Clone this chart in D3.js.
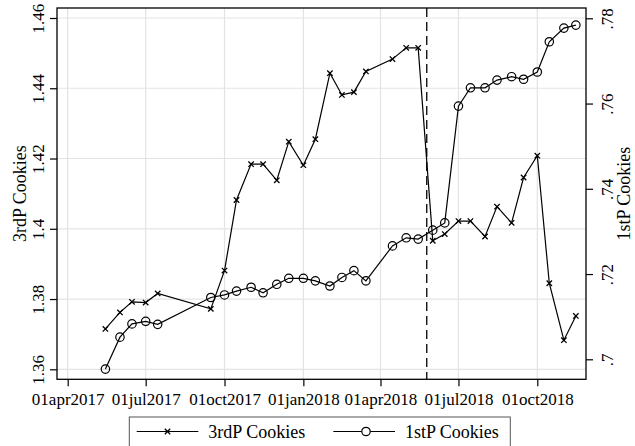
<!DOCTYPE html>
<html><head><meta charset="utf-8">
<script src="https://cdn.jsdelivr.net/npm/d3@7"></script>
<style>
html,body{margin:0;padding:0;background:#fff;}
svg{display:block;font-family:"Liberation Serif","Times New Roman",serif;}
</style></head>
<body><svg id="c" width="635" height="446"></svg>
<script>
const dates = ["2017-05-15","2017-06-01","2017-06-15","2017-07-01","2017-07-15","2017-09-15","2017-10-01","2017-10-15","2017-11-01","2017-11-15","2017-12-01","2017-12-15","2018-01-01","2018-01-15","2018-02-01","2018-02-15","2018-03-01","2018-03-15","2018-04-15","2018-05-01","2018-05-15","2018-06-01","2018-06-15","2018-07-01","2018-07-15","2018-08-01","2018-08-15","2018-09-01","2018-09-15","2018-10-01","2018-10-15","2018-11-01","2018-11-15"];
const thirdP = [1.3715,1.3762,1.3792,1.3790,1.3816,1.3772,1.3881,1.4082,1.4184,1.4184,1.4138,1.4248,1.4181,1.4255,1.4443,1.4381,1.4389,1.4448,1.4483,1.4515,1.4515,1.3966,1.3985,1.4022,1.4022,1.3978,1.4063,1.4017,1.4146,1.4208,1.3845,1.3683,1.3752];
const firstP = [0.6977,0.7052,0.7083,0.7089,0.7082,0.7145,0.7151,0.7160,0.7169,0.7156,0.7176,0.7190,0.7190,0.7184,0.7172,0.7192,0.7208,0.7184,0.7266,0.7285,0.7282,0.7303,0.7320,0.7594,0.7637,0.7637,0.7655,0.7663,0.7657,0.7674,0.7745,0.7777,0.7784];
const xTicks = ["2017-04-01","2017-07-01","2017-10-01","2018-01-01","2018-04-01","2018-07-01","2018-10-01"];
const leftTicks = [1.36,1.38,1.40,1.42,1.44,1.46];
const leftTickLabels = ["1.36","1.38","1.4","1.42","1.44","1.46"];
const rightTicks = [0.70,0.72,0.74,0.76,0.78];
const rightTickLabels = [".7",".72",".74",".76",".78"];
const eventDate = "2018-05-25";
const seriesNames = ["3rdP Cookies","1stP Cookies"];

const parse = d3.utcParse("%Y-%m-%d");
const fmt = d => d3.utcFormat("%d%b%Y")(d).toLowerCase();

const L = 57, R = 586, T = 8, B = 379.3;
const svg = d3.select("#c");

const x = d3.scaleUtc().domain([parse("2017-04-01"), parse("2018-10-01")]).range([67.7, 537.3]);
const yL = d3.scaleLinear().domain([1.36, 1.46]).range([369.3, 18]);
const yR = d3.scaleLinear().domain([0.70, 0.78]).range([359.3, 18.3]);

const data = dates.map((d,i) => ({date: parse(d), a: thirdP[i], b: firstP[i]}));

// gridlines
const g = svg.append("g");
g.selectAll("line.h").data(leftTicks).join("line")
  .attr("x1", L).attr("x2", R).attr("y1", d => yL(d)).attr("y2", d => yL(d))
  .attr("stroke", "#e3e3e3").attr("stroke-width", 1.2);
g.selectAll("line.v").data(xTicks.map(parse)).join("line")
  .attr("x1", d => x(d)).attr("x2", d => x(d)).attr("y1", T).attr("y2", B)
  .attr("stroke", "#e3e3e3").attr("stroke-width", 1.2);

// dashed event line
svg.append("line").attr("x1", x(parse(eventDate))).attr("x2", x(parse(eventDate)))
  .attr("y1", T).attr("y2", B).attr("stroke", "#000").attr("stroke-width", 1.3)
  .attr("stroke-dasharray", "9,5");

// lines
const lineA = d3.line().x(d => x(d.date)).y(d => yL(d.a));
const lineB = d3.line().x(d => x(d.date)).y(d => yR(d.b));
svg.append("path").datum(data).attr("d", lineA).attr("fill","none").attr("stroke","#000").attr("stroke-width",1.2);
svg.append("path").datum(data).attr("d", lineB).attr("fill","none").attr("stroke","#000").attr("stroke-width",1.2);

// markers
const xm = 2.7;
svg.append("g").selectAll("path").data(data).join("path")
  .attr("d", d => { const cx = x(d.date), cy = yL(d.a); return `M${cx-xm},${cy-xm}L${cx+xm},${cy+xm}M${cx-xm},${cy+xm}L${cx+xm},${cy-xm}`; })
  .attr("stroke","#000").attr("stroke-width",1.3);
svg.append("g").selectAll("circle").data(data).join("circle")
  .attr("cx", d => x(d.date)).attr("cy", d => yR(d.b)).attr("r", 4.2)
  .attr("fill","none").attr("stroke","#000").attr("stroke-width",1.2);

// frame
svg.append("rect").attr("x", L).attr("y", T).attr("width", R-L).attr("height", B-T)
  .attr("fill","none").attr("stroke","#000").attr("stroke-width",1.3);

// left axis
const axL = svg.append("g").attr("transform", `translate(${L},0)`)
  .call(d3.axisLeft(yL).tickValues(leftTicks).tickSize(7).tickFormat((d,i)=>leftTickLabels[i]));
axL.select(".domain").remove();
axL.selectAll("text").attr("font-size", 17).attr("font-family","Liberation Serif")
  .attr("x", null).attr("dy", null)
  .attr("transform", d => `translate(-13,0) rotate(-90)`).attr("text-anchor","middle");
axL.selectAll(".tick line").attr("stroke-width",1.2);

// right axis
const axR = svg.append("g").attr("transform", `translate(${R},0)`)
  .call(d3.axisRight(yR).tickValues(rightTicks).tickSize(7).tickFormat((d,i)=>rightTickLabels[i]));
axR.select(".domain").remove();
axR.selectAll("text").attr("font-size", 17).attr("font-family","Liberation Serif")
  .attr("x", null).attr("dy", null)
  .attr("transform", d => `translate(27,0) rotate(-90)`).attr("text-anchor","middle");
axR.selectAll(".tick line").attr("stroke-width",1.2);

// bottom axis
const axB = svg.append("g").attr("transform", `translate(0,${B})`)
  .call(d3.axisBottom(x).tickValues(xTicks.map(parse)).tickSize(7).tickFormat(fmt));
axB.select(".domain").remove();
axB.selectAll("text").attr("font-size", 17).attr("font-family","Liberation Serif")
  .attr("y", 26).attr("dy", null);
axB.selectAll(".tick line").attr("stroke-width",1.2);

// axis titles
svg.append("text").attr("transform", `translate(25.5,${(T+B)/2}) rotate(-90)`)
  .attr("text-anchor","middle").attr("font-size",18).text(seriesNames[0]);
svg.append("text").attr("transform", `translate(630,${(T+B)/2}) rotate(-90)`)
  .attr("text-anchor","middle").attr("font-size",18).text(seriesNames[1]);

// legend
const lg = svg.append("g");
lg.append("rect").attr("x",129.3).attr("y",417).attr("width",381).attr("height",40)
  .attr("fill","#fff").attr("stroke","#555").attr("stroke-width",1);
const ly = 431.5;
lg.append("line").attr("x1",136.7).attr("x2",198.3).attr("y1",ly).attr("y2",ly).attr("stroke","#000").attr("stroke-width",1.2);
const mx = 167.5;
lg.append("path").attr("d",`M${mx-xm},${ly-xm}L${mx+xm},${ly+xm}M${mx-xm},${ly+xm}L${mx+xm},${ly-xm}`).attr("stroke","#000").attr("stroke-width",1.3);
lg.append("text").attr("x",208.3).attr("y",438).attr("font-size",18).text(seriesNames[0]);
lg.append("line").attr("x1",333.3).attr("x2",395).attr("y1",ly).attr("y2",ly).attr("stroke","#000").attr("stroke-width",1.2);
lg.append("circle").attr("cx",366).attr("cy",ly).attr("r",4.2).attr("fill","#fff").attr("stroke","#000").attr("stroke-width",1.2);
lg.append("text").attr("x",405).attr("y",438).attr("font-size",18).text(seriesNames[1]);
</script></body></html>
